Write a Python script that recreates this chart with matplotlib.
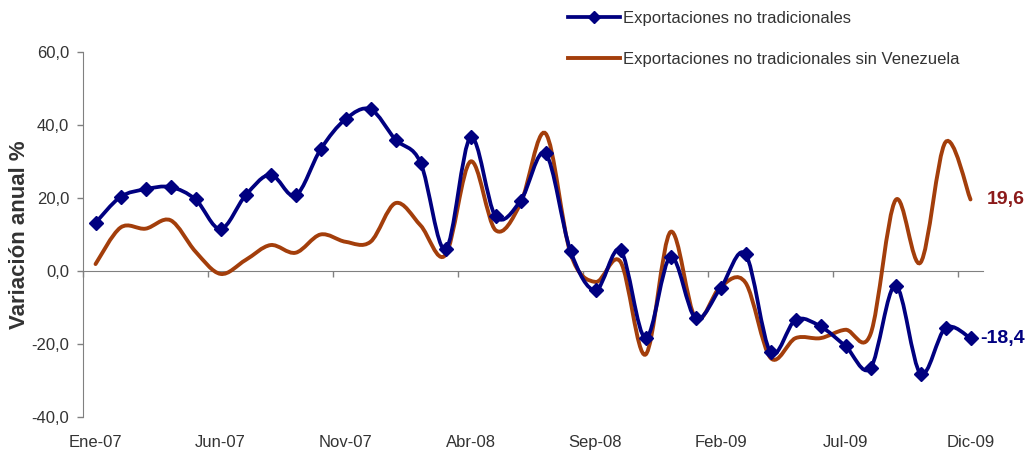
import numpy as np
import matplotlib

matplotlib.use("Agg")
import matplotlib.pyplot as plt
from matplotlib.path import Path
from matplotlib.patches import PathPatch
from matplotlib.lines import Line2D

plt.rcParams["font.family"] = ["Liberation Sans", "DejaVu Sans"]

# monthly series, Ene-07 .. Dic-09
months = [
    "Ene-07", "Feb-07", "Mar-07", "Abr-07", "May-07", "Jun-07",
    "Jul-07", "Ago-07", "Sep-07", "Oct-07", "Nov-07", "Dic-07",
    "Ene-08", "Feb-08", "Mar-08", "Abr-08", "May-08", "Jun-08",
    "Jul-08", "Ago-08", "Sep-08", "Oct-08", "Nov-08", "Dic-08",
    "Ene-09", "Feb-09", "Mar-09", "Abr-09", "May-09", "Jun-09",
    "Jul-09", "Ago-09", "Sep-09", "Oct-09", "Nov-09", "Dic-09",
]
no_tradicionales = [
    13.2, 20.3, 22.4, 23.0, 19.6, 11.5, 20.7, 26.4, 20.7, 33.3, 41.6, 44.3,
    36.0, 29.7, 5.9, 36.6, 15.0, 19.2, 32.2, 5.5, -5.3, 5.7, -18.4, 3.9,
    -12.9, -4.7, 4.6, -22.2, -13.4, -15.2, -20.6, -26.6, -4.0, -28.1, -15.6, -18.4,
]
sin_venezuela = [
    1.9, 11.9, 11.6, 13.9, 5.3, -0.8, 3.0, 7.1, 5.0, 10.0, 8.0, 8.0,
    18.6, 12.5, 4.4, 30.0, 11.2, 18.5, 37.7, 4.8, -3.0, 2.5, -22.9, 10.7,
    -12.9, -4.3, -3.2, -23.8, -18.4, -18.4, -16.1, -17.3, 19.4, 2.3, 35.3, 19.6,
]
label_every = 5

BLUE = "#000080"
ORANGE = "#A33E0B"
GRAY = "#808080"
TEXT = "#333333"


def smooth_path(x, y):
    # Excel-style smoothed line: cubic Bezier through every point
    pts = np.column_stack([x, y]).astype(float)
    n = len(pts)
    verts = [pts[0]]
    codes = [Path.MOVETO]
    for i in range(n - 1):
        p_prev = pts[max(i - 1, 0)]
        p_next2 = pts[min(i + 2, n - 1)]
        c1 = pts[i] + (pts[i + 1] - p_prev) / 6.0
        c2 = pts[i + 1] - (p_next2 - pts[i]) / 6.0
        verts += [c1, c2, pts[i + 1]]
        codes += [Path.CURVE4] * 3
    return Path(verts, codes)


fig = plt.figure(figsize=(10.29, 4.53), dpi=100)
ax = fig.add_axes([0.0807, 0.0795, 0.8746, 0.8057])

x = np.arange(len(months))
ax.add_patch(PathPatch(smooth_path(x, sin_venezuela), facecolor="none",
                       edgecolor=ORANGE, linewidth=2.8, capstyle="round", zorder=3))
ax.add_patch(PathPatch(smooth_path(x, no_tradicionales), facecolor="none",
                       edgecolor=BLUE, linewidth=2.7, capstyle="round", zorder=4))
ax.plot(x, no_tradicionales, linestyle="none", marker="D", markersize=7.5,
        color=BLUE, zorder=5)

ax.set_xlim(-0.5, len(months) - 0.5)
ax.set_ylim(-40, 60)
ax.set_yticks(np.arange(-40, 61, 20))
ax.set_yticklabels([f"{v:.1f}".replace(".", ",") for v in np.arange(-40, 61, 20)])
ax.tick_params(axis="y", direction="out", length=4, width=1, color=GRAY,
               labelsize=12, labelcolor=TEXT, pad=6)

# category axis crossing at zero, tick marks between categories
ax.spines["bottom"].set_position(("data", 0))
ax.spines["bottom"].set_color(GRAY)
ax.spines["left"].set_color(GRAY)
ax.spines["top"].set_visible(False)
ax.spines["right"].set_visible(False)
ax.set_xticks(np.arange(-0.5, len(months), label_every))
ax.set_xticklabels([])
ax.tick_params(axis="x", direction="out", length=4, width=1, color=GRAY)

sec = ax.secondary_xaxis("bottom")
sec.set_xticks(x[::label_every])
sec.set_xticklabels(months[::label_every])
sec.tick_params(length=0, pad=13, labelsize=12, labelcolor=TEXT)
sec.spines["bottom"].set_visible(False)

ax.set_ylabel("Variación anual %", fontsize=16, fontweight="bold",
              color=TEXT, labelpad=1)

ax.annotate(f"{sin_venezuela[-1]:.1f}".replace(".", ","),
            (x[-1], sin_venezuela[-1]), xytext=(12, 0), textcoords="offset points",
            ha="left", va="center", fontsize=14, fontweight="bold",
            color="#8B1A1A", annotation_clip=False)
ax.annotate(f"{no_tradicionales[-1]:.1f}".replace(".", ","),
            (x[-1], no_tradicionales[-1]), xytext=(7, 0), textcoords="offset points",
            ha="left", va="center", fontsize=14, fontweight="bold",
            color=BLUE, annotation_clip=False)

handles = [
    Line2D([], [], color=BLUE, linewidth=2.7, marker="D", markersize=6.5),
    Line2D([], [], color=ORANGE, linewidth=2.8),
]
fig.legend(handles, ["Exportaciones no tradicionales",
                     "Exportaciones no tradicionales sin Venezuela"],
           loc="upper left", bbox_to_anchor=(0.552, 0.975), frameon=False,
           fontsize=12, labelcolor=TEXT, handlelength=3.1, handletextpad=0.2,
           labelspacing=1.55, borderpad=0, borderaxespad=0)

fig.savefig("out.png", dpi=100)
